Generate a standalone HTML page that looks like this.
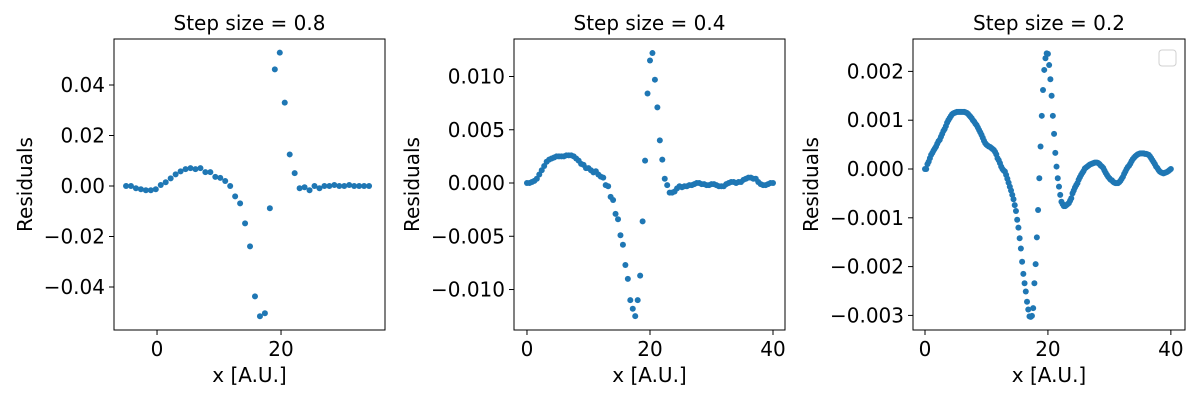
<!DOCTYPE html>
<html><head><meta charset="utf-8"><style>
body{margin:0;background:#fff}
svg{display:block;font-family:"DejaVu Sans","Liberation Sans",sans-serif}
</style></head><body>
<svg id="c" width="1200" height="400" viewBox="0 0 1200 400"></svg>
<script>
// Panel 1 (step 0.8)
const p1Start = -5, p1Step = 0.8;
const p1Values = [0,0,-0.0009,-0.0013,-0.0017,-0.0017,-0.0013,0.0004,0.0015,0.003,0.0046,0.0058,0.0067,0.0071,0.0067,0.0071,0.0055,0.0055,0.0036,0.0032,0.002,0,-0.0041,-0.0069,-0.0148,-0.0239,-0.0437,-0.0516,-0.0504,-0.0088,0.0462,0.0528,0.033,0.0125,0.0051,-0.0009,-0.0005,-0.0017,0,-0.0009,0,0,0.0004,0,0,0.0004,0,0,0,0];
const p1YTicks = [0.04,0.02,0,-0.02,-0.04];
const p1YLabels = ["0.04","0.02","0.00","−0.02","−0.04"];
const p1XTicks = [0,20];
// Panel 2 (step 0.4), values in 1e-3
const p2Start = 0, p2Step = 0.4;
const p2Values = [0,0,0.1,0.2,0.4,0.8,1.2,1.6,2.0,2.2,2.3,2.4,2.5,2.5,2.5,2.5,2.6,2.6,2.6,2.5,2.3,2.1,1.8,1.7,1.4,1.4,1.2,1.0,1.1,0.8,0.6,0.5,
-0.2,-0.3,-1.3,-1.6,-2.9,-3.4,-4.9,-5.8,-7.7,-9.0,-11.0,-11.8,-12.5,-11.0,-8.7,-3.6,2.1,8.4,11.5,12.2,9.7,7.1,4.0,2.2,0.4,-0.2,-0.9,-0.9,-0.8,-0.5,
-0.3,-0.4,-0.3,-0.3,-0.2,-0.2,-0.1,0,0,-0.1,-0.1,-0.2,-0.2,-0.1,-0.1,
-0.2,-0.3,-0.3,-0.3,-0.1,0,0.1,0.1,0,0.1,0.1,0.3,0.4,
0.5,0.5,0.4,0.4,0.1,-0.1,-0.2,-0.2,-0.1,0,0];
const p2YTicks = [10,5,0,-5,-10];
const p2YLabels = ["0.010","0.005","0.000","−0.005","−0.010"];
const p2XTicks = [0,20,40];
// Panel 3 (step 0.2), values in 1e-3
const p3Start = 0, p3Step = 0.2;
const p3Values = [0,0,0.1,0.15,0.22,0.29,
0.33,0.38,0.42,0.46,0.52,0.57,0.6,0.66,0.72,0.78,
0.82,0.88,0.95,1.0,1.04,1.08,1.12,1.14,1.15,1.16,
1.17,1.17,1.17,1.17,1.17,1.17,1.17,1.16,1.15,1.13,
1.1,1.07,1.04,1.0,0.97,0.93,0.9,0.85,0.8,0.75,
0.7,0.64,0.58,0.53,0.5,0.48,0.46,0.45,0.43,0.41,
0.39,0.35,0.3,0.22,0.18,0.12,0.05,0.0,-0.03,-0.05,
-0.12,-0.2,-0.28,-0.36,-0.44,-0.53,-0.62,-0.74,-0.86,-1.04,
-1.2,-1.42,-1.63,-1.9,-2.15,-2.34,-2.51,-2.72,-2.88,-3.02,
-3.03,-3.01,-2.85,-2.34,-1.95,-1.4,-0.84,-0.19,0.46,1.09,
1.62,2.03,2.27,2.37,2.36,2.13,1.84,1.5,1.09,0.72,
0.33,0.05,-0.19,-0.36,-0.53,-0.67,-0.72,-0.76,-0.76,-0.74,
-0.72,-0.7,-0.65,-0.6,-0.5,-0.44,-0.38,-0.33,-0.29,-0.22,
-0.17,-0.12,-0.08,-0.04,0.01,0.03,0.05,0.07,0.09,0.1,
0.11,0.12,0.13,0.13,0.13,0.12,0.1,0.07,0.05,0.02,
-0.03,-0.08,-0.12,-0.16,-0.19,-0.22,-0.23,-0.26,-0.28,-0.29,
-0.29,-0.29,-0.27,-0.24,-0.2,-0.16,-0.1,-0.05,0.0,0.04,
0.07,0.11,0.16,0.2,0.23,0.26,0.28,0.3,0.31,0.32,
0.32,0.32,0.32,0.31,0.31,0.3,0.29,0.26,0.22,0.18,
0.14,0.1,0.05,0.02,-0.02,-0.05,-0.07,-0.08,-0.09,-0.08,
-0.07,-0.06,-0.04,-0.02,0];
const p3YTicks = [2,1,0,-1,-2,-3];
const p3YLabels = ["0.002","0.001","0.000","−0.001","−0.002","−0.003"];
const p3XTicks = [0,20,40];

const NS="http://www.w3.org/2000/svg";
const svg=document.getElementById('c');
function mk(tag,attrs,parent){const e=document.createElementNS(NS,tag);for(const k in attrs)e.setAttribute(k,attrs[k]);(parent||svg).appendChild(e);return e;}

function panel(o){
  const g=mk('g',{});
  
  
  const sx=v=>o.x0+(v-o.xmin)/(o.xmax-o.xmin)*(o.x1-o.x0);
  const sy=v=>o.y1-(v-o.ymin)/(o.ymax-o.ymin)*(o.y1-o.y0);
  o.values.forEach((v,i)=>{
    const c=mk('circle',{cx:sx(o.start+o.step*i),cy:sy(v),r:3,fill:'#1f77b4'},g);
    
    
  });
  const fr=mk('rect',{x:o.x0,y:o.y0,width:o.x1-o.x0,height:o.y1-o.y0,fill:'none',stroke:'#000','stroke-width':1},g);
  
  
  o.yticks.forEach((t,i)=>{
    const y=sy(t);
    mk('line',{x1:o.x0-5,x2:o.x0,y1:y,y2:y,stroke:'#000'},g);
    const tx=mk('text',{x:o.x0-9,y:y+7,'text-anchor':'end','font-size':20},g);
    tx.textContent=o.ylabels[i];
    
    
  });
  o.xticks.forEach(t=>{
    const x=sx(t);
    mk('line',{x1:x,x2:x,y1:o.y1,y2:o.y1+5,stroke:'#000'},g);
    const tx=mk('text',{x:x,y:o.y1+26,'text-anchor':'middle','font-size':20},g);
    tx.textContent=String(t);
    
    
  });
  const ti=mk('text',{x:(o.x0+o.x1)/2,y:30,'text-anchor':'middle','font-size':20},g);
  ti.textContent=o.title;
  
  
  const xl=mk('text',{x:(o.x0+o.x1)/2,y:382,'text-anchor':'middle','font-size':20},g);
  xl.textContent='x [A.U.]';
  
  
  const yc=(o.y0+o.y1)/2;
  const yl=mk('text',{x:o.ylx,y:yc,'text-anchor':'middle','font-size':20,transform:`rotate(-90 ${o.ylx} ${yc})`},g);
  yl.textContent='Residuals';
  
  
}
panel({name:'panel-step-0.8',title:'Step size = 0.8',x0:114,x1:385,y0:39,y1:330,xmin:-6.94,xmax:36.77,ymin:-0.05703,ymax:0.05822,
  start:p1Start,step:p1Step,values:p1Values,yticks:p1YTicks,ylabels:p1YLabels,xticks:p1XTicks,ylx:32});
panel({name:'panel-step-0.4',title:'Step size = 0.4',x0:514,x1:785,y0:39,y1:330,xmin:-2.11,xmax:41.95,ymin:-13.8,ymax:13.52,
  start:p2Start,step:p2Step,values:p2Values,yticks:p2YTicks,ylabels:p2YLabels,xticks:p2XTicks,ylx:419});
panel({name:'panel-step-0.2',title:'Step size = 0.2',x0:913,x1:1185,y0:39,y1:330,xmin:-1.95,xmax:42.3,ymin:-3.299,ymax:2.664,
  start:p3Start,step:p3Step,values:p3Values,yticks:p3YTicks,ylabels:p3YLabels,xticks:p3XTicks,ylx:818});
const lg=mk('rect',{x:1159,y:50,width:17,height:16,rx:3,fill:'#fff',stroke:'#d0d0d0'});


</script>
</body></html>
